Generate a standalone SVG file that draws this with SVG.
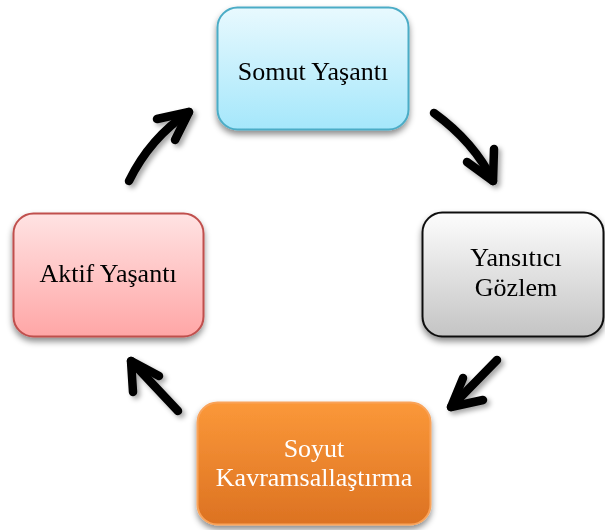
<svg xmlns="http://www.w3.org/2000/svg" width="605" height="530" viewBox="0 0 605 530">
<defs>
<linearGradient id="gBlue" x1="0" y1="0" x2="0" y2="1"><stop offset="0" stop-color="#E8F9FE"/><stop offset="1" stop-color="#A5E7FB"/></linearGradient>
<linearGradient id="gGray" x1="0" y1="0" x2="0" y2="1"><stop offset="0" stop-color="#FDFDFD"/><stop offset="1" stop-color="#C4C4C4"/></linearGradient>
<linearGradient id="gOrange" x1="0" y1="0" x2="0" y2="1"><stop offset="0" stop-color="#FB9839"/><stop offset="1" stop-color="#DC7222"/></linearGradient>
<linearGradient id="gPink" x1="0" y1="0" x2="0" y2="1"><stop offset="0" stop-color="#FFE3E3"/><stop offset="1" stop-color="#FFA6A6"/></linearGradient>
<filter id="sh" x="-20%" y="-20%" width="140%" height="150%"><feDropShadow dx="0" dy="4" stdDeviation="3" flood-color="#000" flood-opacity="0.45"/></filter>
<filter id="ash" x="-30%" y="-30%" width="160%" height="160%"><feDropShadow dx="3" dy="3" stdDeviation="2.5" flood-color="#000" flood-opacity="0.35"/></filter>
</defs>
<style>
.lbl{font-family:"Liberation Serif","Times New Roman",serif;font-size:26px;text-anchor:middle;fill:#000}
.w{fill:#fff}
.arr{fill:none;stroke:#000;stroke-width:8.5;stroke-linecap:round;stroke-linejoin:round}
</style>
<g id="node-somut" filter="url(#sh)">
<rect x="217.5" y="7.5" width="191" height="122" rx="20" fill="url(#gBlue)" stroke="#4BACC6" stroke-width="2"/>
<text class="lbl" x="313" y="80">Somut Yaşantı</text>
</g>
<g id="node-yansitici" filter="url(#sh)">
<rect x="422.5" y="212.5" width="181" height="124" rx="20" fill="url(#gGray)" stroke="#111" stroke-width="2"/>
<text class="lbl" x="516" y="266">Yansıtıcı</text>
<text class="lbl" x="516" y="295.5">Gözlem</text>
</g>
<g id="node-soyut" filter="url(#sh)">
<rect x="197.5" y="402.5" width="233" height="122" rx="20" fill="url(#gOrange)" stroke="#F9A35A" stroke-width="2"/>
<text class="lbl w" x="314" y="456.5">Soyut</text>
<text class="lbl w" x="314" y="486">Kavramsallaştırma</text>
</g>
<g id="node-aktif" filter="url(#sh)">
<rect x="13.5" y="213.5" width="190" height="123" rx="20" fill="url(#gPink)" stroke="#C0504D" stroke-width="2"/>
<text class="lbl" x="108" y="282">Aktif Yaşantı</text>
</g>
<g id="connectors" filter="url(#ash)">
<path class="arr" d="M434 113 Q474 142 493 181"/>
<path class="arr" d="M467 162 L493 181 L494 149"/>
<path class="arr" d="M497 360 L451 407"/>
<path class="arr" d="M463 378 L451 407 L483 400"/>
<path class="arr" d="M178 411 L131 361"/>
<path class="arr" d="M133 392 L131 361 L159 376"/>
<path class="arr" d="M129 181 Q150 138 189 112"/>
<path class="arr" d="M157 119 L189 112 L175 140"/>
</g>
</svg>
